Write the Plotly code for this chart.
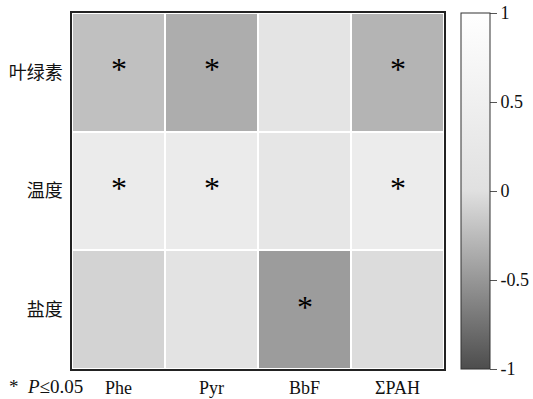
import plotly.graph_objects as go

x_labels = ["Phe", "Pyr", "BbF", "ΣPAH"]
y_labels = ["叶绿素", "温度", "盐度"]
z_values = [
    [-0.22, -0.35, 0.13, -0.30],
    [0.35, 0.35, 0.20, 0.39],
    [-0.09, 0.10, -0.46, -0.03],
]
significant = [
    [True, True, False, True],
    [True, True, False, True],
    [False, False, True, False],
]
cbar_ticks = [1, 0.5, 0, -0.5, -1]
cbar_ticktext = ["1", "0.5", "0", "-0.5", "-1"]

FONT = "Liberation Serif, Times New Roman, Noto Sans CJK SC, serif"
FS = 18

fig = go.Figure()
fig.add_trace(go.Heatmap(
    z=z_values, x=x_labels, y=y_labels,
    zmin=-1, zmax=1,
    colorscale=[[0, "#4d4d4d"], [0.5, "#e0e0e0"], [1, "#ffffff"]],
    xgap=2, ygap=2,
    colorbar=dict(
        x=1.046, xanchor="left", xpad=0, ypad=0,
        y=0.5, yanchor="middle", len=1, lenmode="fraction",
        thickness=29, thicknessmode="pixels",
        outlinewidth=1, outlinecolor="#333333",
        tickvals=cbar_ticks, ticktext=cbar_ticktext,
        ticks="outside", ticklen=7, tickcolor="#555555", tickwidth=1,
        tickfont=dict(family=FONT, size=FS, color="#111111"),
    ),
    hoverinfo="skip",
))

for i, row in enumerate(significant):
    for j, s in enumerate(row):
        if s:
            fig.add_annotation(x=x_labels[j], y=y_labels[i], text="*",
                               showarrow=False, yshift=3,
                               font=dict(family=FONT, size=32, color="black"))

fig.add_annotation(xref="paper", yref="paper", x=-0.175, y=-0.013,
                   xanchor="left", yanchor="top",
                   text="*  <i>P</i>≤0.05", showarrow=False,
                   font=dict(family=FONT, size=19, color="#111111"))

fig.update_xaxes(showline=True, linecolor="#222222", linewidth=1.5, mirror=True,
                 ticks="", tickfont=dict(family=FONT, size=FS, color="#111111"),
                 ticklabelstandoff=2, automargin=False)
fig.update_yaxes(showline=True, linecolor="#222222", linewidth=1.5, mirror=True,
                 autorange="reversed",
                 ticks="", tickfont=dict(family=FONT, size=FS, color="#111111"),
                 ticklabelstandoff=4, automargin=False)

fig.update_layout(
    width=533, height=399,
    margin=dict(l=72, r=89, t=13, b=30, autoexpand=False),
    paper_bgcolor="white", plot_bgcolor="white",
    font=dict(family=FONT),
)

fig.write_html("out.html", config={"displayModeBar": False},
               post_script="document.body.style.margin='0';document.body.style.overflow='hidden';")
